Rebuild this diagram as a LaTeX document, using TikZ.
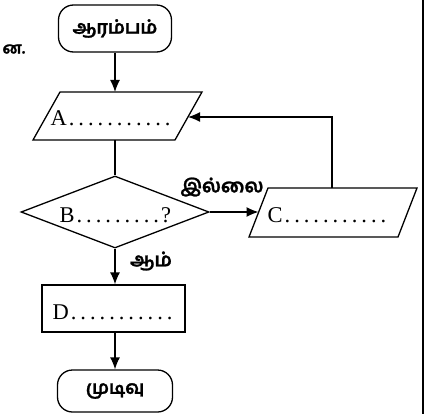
\documentclass[tikz,border=0pt]{standalone}
\usepackage{fontspec}
\setmainfont{Liberation Serif}
\newfontfamily\tam[Script=Tamil,BoldFeatures={FakeBold=1.2}]{Hind Madurai}
\usetikzlibrary{arrows.meta,shapes.geometric}
\newcommand\dts[1]{\foreach \i in {1,...,#1}{\makebox[9.6pt]{.}}}
\begin{document}
\begin{tikzpicture}[x=1pt,y=-1pt, line width=1.3pt,
  term/.style={draw, rounded corners=15pt, inner sep=0pt, font=\tam\bfseries\fontsize{18.5}{18.5}\selectfont},
  boxx/.style={draw, minimum width=143pt, minimum height=47pt, inner sep=0pt},
  shp/.style={draw, line join=miter},
  tl/.style={font=\tam\bfseries\fontsize{19}{19}\selectfont, inner sep=0pt},
  ll/.style={font=\fontsize{22.5}{22.5}\selectfont, inner sep=0pt, anchor=west},
  arr/.style={-{Latex[length=12pt,width=10pt]}}]
\useasboundingbox (0,0) rectangle (430,414);
% border line at right
\coordinate (bt) at (423,0);
\coordinate (bb) at (423,414);
\draw[line width=1.5pt] (bt) -- (bb);
% fragment at left edge
\node[tl, anchor=east, font=\tam\bfseries\fontsize{16}{16}\selectfont] (frag) at (26,49) {ன.};
% start
\node[term, minimum width=113pt, minimum height=47pt] (start) at (115,28.5) {ஆரம்பம்};
% parallelogram A
\draw[shp] (60,92) -- (202,92) -- (175,140) -- (33,140) -- cycle;
\coordinate (Atop) at (115,92);
\coordinate (Abot) at (115,140);
\coordinate (Ae) at (188,117);
\node[ll] (At) at (50,118) {A\dts{11}};
% decision B
\node[diamond, draw, minimum width=188pt, minimum height=72pt, inner sep=0pt] (B) at (115,212) {};
\node[ll] (Bt) at (59,215) {B\dts{9}?};
% parallelogram C
\draw[shp] (268,188) -- (417,188) -- (398,237) -- (249,237) -- cycle;
\coordinate (Cw) at (258.5,212);
\coordinate (Ctop) at (332,188);
\node[ll] (Ct) at (267,215) {C\dts{11}};
% D
\node[boxx] (D) at (113.5,308.5) {};
\node[ll] (Dt) at (52,312) {D\dts{11}};
% end
\node[term, minimum width=115pt, minimum height=42pt] (end) at (115,391) {முடிவு};
% labels
\node[tl] (no) at (222,187) {இல்லை};
\node[tl] (yes) at (151,261) {ஆம்};
% connectors
\draw[arr] (start) -- (Atop);
\draw (Abot) -- (B.north);
\draw[arr] (B.east) -- (Cw);
\draw[arr] (Ctop) |- (Ae);
\draw[arr] (B.south) -- (B.south |- D.north);
\draw[arr] (D.south -| end) -- (end.north);
\end{tikzpicture}
\end{document}
